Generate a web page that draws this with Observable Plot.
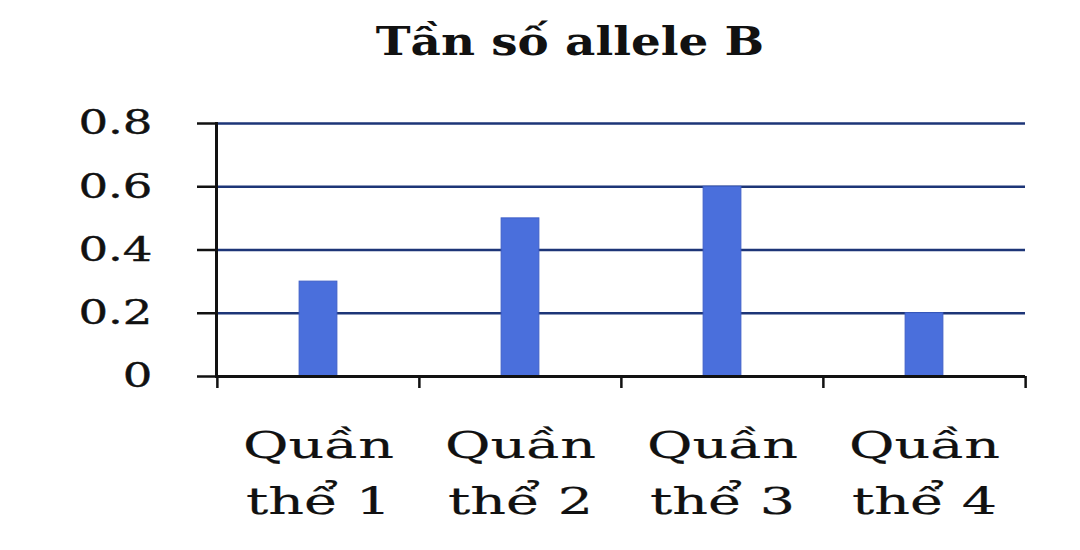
<!DOCTYPE html>
<html>
<head>
<meta charset="utf-8">
<script src="https://cdn.jsdelivr.net/npm/d3@7"></script>
<script src="https://cdn.jsdelivr.net/npm/@observablehq/plot@0.6"></script>
<style>
  html, body { margin: 0; padding: 0; background: #fff; }
  #title { height: 80px; box-sizing: border-box; padding-top: 17px; padding-left: 60px; text-align: center;
           font: bold 40px "DejaVu Serif", "Liberation Serif", serif; color: #111; line-height: 48px; }
  #title span { display: inline-block; transform: scaleX(1.17); }
</style>
</head>
<body>
<div id="title"><span>Tần số allele B</span></div>
<div id="chart"></div>
<script>
const categories = ["Quần\nthể 1", "Quần\nthể 2", "Quần\nthể 3", "Quần\nthể 4"];
const values = [0.3, 0.5, 0.6, 0.2];
const yTicks = [0, 0.2, 0.4, 0.6, 0.8];
const gridTicks = [0.2, 0.4, 0.6, 0.8];

const data = categories.map((c, i) => ({ cat: c, value: values[i] }));

const W = 1080, H = 470;
const mL = 216, mR = 55;
const bw = (W - mL - mR) / categories.length;
const font = '"DejaVu Serif", "Liberation Serif", serif';

const chart = Plot.plot({
  width: W,
  height: H,
  marginLeft: mL,
  marginRight: mR,
  marginTop: 43,
  marginBottom: 174,
  style: { fontFamily: font, color: "#111", background: "#fff" },
  x: { domain: categories, padding: 0, axis: null },
  y: { domain: [0, 0.8], axis: null },
  marks: [
    Plot.ruleY(gridTicks, { stroke: "#1d3577", strokeWidth: 2.5 }),
    Plot.barY(data, { x: "cat", y: "value", fill: "#4a6fdc", stroke: "#3d5fc8", strokeWidth: 1, insetLeft: (bw - 38) / 2, insetRight: (bw - 38) / 2 }),
    Plot.axisY({ ticks: yTicks, label: null, tickFormat: d => d === 0 ? "0" : d.toFixed(1), tickSize: 19, tickPadding: 45, stroke: "#111", strokeWidth: 2.5, fontSize: 34, fill: "#111" }),
    Plot.axisX({ ticks: categories, label: null, tickSize: 12, tickFormat: () => "", dx: -bw / 2, stroke: "#111", strokeWidth: 2.5 }),
    Plot.axisX({ ticks: [categories[categories.length - 1]], label: null, tickSize: 12, tickFormat: () => "", dx: bw / 2, stroke: "#111", strokeWidth: 2.5 }),
    Plot.ruleY([0], { stroke: "#111", strokeWidth: 3 }),
    Plot.frame({ anchor: "left", stroke: "#111", strokeWidth: 3 }),
    Plot.text(data, { x: "cat", y: 0, text: "cat", dy: 92, lineAnchor: "middle", lineHeight: 1.51, fontSize: 37, fill: "#111", textAnchor: "middle" })
  ]
});

// widen glyphs horizontally (reference font is stretched), keeping each anchor x fixed
function stretch(sel, s, sw) {
  chart.querySelectorAll(sel).forEach(t => {
    const xs = t.getAttribute("x");
    const x = xs && /^-?[\d.]+$/.test(xs) ? +xs : 0;
    const tr = t.getAttribute("transform") || "";
    t.setAttribute("transform", `${tr} translate(${x},0) scale(${s},1) translate(${-x},0)`);
    if (sw > 0) { t.setAttribute("stroke", "#111"); t.setAttribute("stroke-width", sw); }
  });
}
stretch("g[aria-label='y-axis tick label'] text", 1.37, 0.4);
stretch("g[aria-label='text'] text", 1.5, 0.2);
document.getElementById("chart").appendChild(chart);
</script>
</body>
</html>
